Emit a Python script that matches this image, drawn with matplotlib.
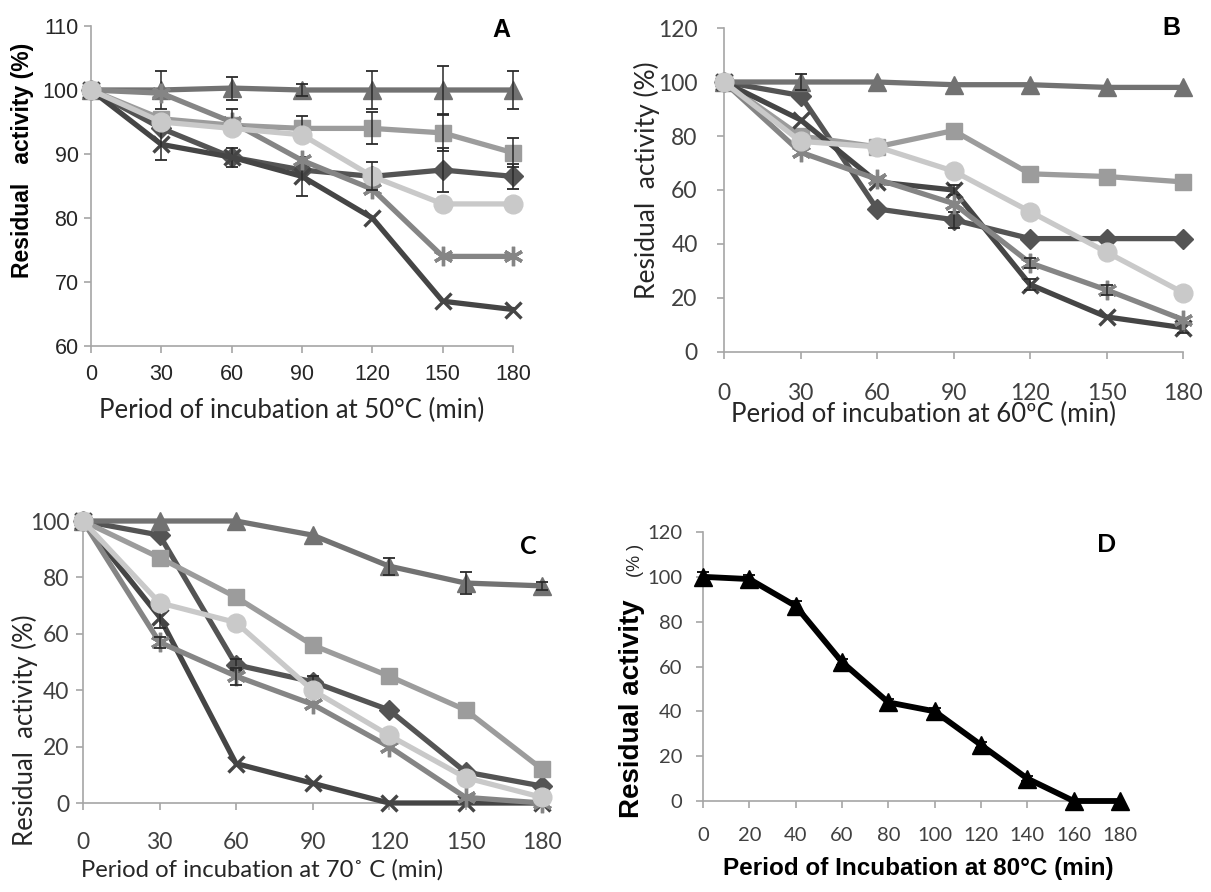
import numpy as np
import matplotlib
matplotlib.use('Agg')
import matplotlib.pyplot as plt

W, H = 1211, 892

# incubation times (min)
t = [0, 30, 60, 90, 120, 150, 180]
t_d = [0, 20, 40, 60, 80, 100, 120, 140, 160, 180]

# panel A, 50 C
a_diamond = [100, 94, 89.5, 87.5, 86.5, 87.5, 86.5]
a_square = [100, 95.5, 94.5, 94, 94, 93.3, 90.2]
a_triangle = [100, 100, 100.3, 100, 100, 100, 100]
a_x = [100, 91.5, 89.5, 86.5, 80, 67, 65.7]
a_star = [100, 99.5, 95, 89, 84.5, 74, 74]
a_circle = [100, 95, 94, 93, 86.5, 82.2, 82.2]
a_err = {'diamond': [0, 0, 1.5, 0, 0, 3.5, 2],
         'square': [0, 0, 0, 2, 2.5, 2.8, 2.3],
         'triangle': [0, 3, 1.8, 1, 3, 3.8, 3],
         'x': [0, 2.5, 0, 3, 0, 0, 0],
         'star': [0, 0, 2, 0, 0, 0, 0],
         'circle': [0, 0, 0, 0, 2.2, 0, 0]}

# panel B, 60 C
b_diamond = [100, 95, 53, 49, 42, 42, 42]
b_square = [100, 80, 76, 82, 66, 65, 63]
b_triangle = [100, 100, 100, 99, 99, 98, 98]
b_x = [100, 86, 63, 60, 25, 13, 9]
b_star = [100, 74, 64, 55, 33, 23, 12]
b_circle = [100, 78, 76, 67, 52, 37, 22]
b_err = {'diamond': [0, 0, 0, 3, 0, 0, 0],
         'triangle': [0, 3, 0, 0, 0, 0, 0],
         'x': [0, 0, 0, 2, 2, 0, 2],
         'star': [0, 0, 0, 0, 2, 2, 0]}

# panel C, 70 C
c_diamond = [100, 95, 49, 43, 33, 11, 6]
c_square = [100, 87, 73, 56, 45, 33, 12]
c_triangle = [100, 100, 100, 95, 84, 78, 77]
c_x = [100, 66, 14, 7, 0, 0, 0]
c_star = [100, 57, 45, 35, 20, 2, 0]
c_circle = [100, 71, 64, 40, 24, 9, 2]
c_err = {'diamond': [0, 0, 2, 2, 0, 0, 0],
         'triangle': [0, 0, 0, 0, 3, 4, 1.5],
         'x': [0, 4, 0, 0, 0, 0, 0],
         'star': [0, 2, 3, 0, 0, 0, 0]}

# panel D, 80 C
d_vals = [100, 99, 87, 62, 44, 40, 25, 10, 0, 0]
d_err = [2, 2, 2, 1.5, 1.5, 1.5, 1.5, 1, 0, 0]

styles = {'diamond': ('D', '#545454', 10, 1),
          'square': ('s', '#9c9c9c', 12, 1),
          'triangle': ('^', '#727272', 12.5, 1),
          'x': ('x', '#454545', 12, 2.4),
          'star': ((6, 2, 0), '#858585', 14, 2.4),
          'circle': ('o', '#c9c9c9', 13.5, 1)}
order = ['diamond', 'square', 'triangle', 'x', 'star', 'circle']

ARIAL = 'Liberation Sans'
CALI = 'Lato'
SPINE = '#a6a6a6'

fig = plt.figure(figsize=(W / 100, H / 100), dpi=100)


def add_ax(x0, x1, ytop, ybot):
    return fig.add_axes([x0 / W, 1 - ybot / H, (x1 - x0) / W, (ybot - ytop) / H])


def ftext(x, y, s, **kw):
    fig.text(x / W, 1 - y / H, s, ha='center', va='center', **kw)


def style_ax(ax, font, size, color, xpad, ypad):
    for s in ['top', 'right']:
        ax.spines[s].set_visible(False)
    for s in ['left', 'bottom']:
        ax.spines[s].set_color(SPINE)
        ax.spines[s].set_linewidth(1.2)
    ax.tick_params(direction='out', length=5, width=1.2, color=SPINE,
                   labelsize=size, labelcolor=color)
    ax.tick_params(axis='x', pad=xpad)
    ax.tick_params(axis='y', pad=ypad)
    for lab in ax.get_xticklabels() + ax.get_yticklabels():
        lab.set_fontfamily(font)


def draw_series(ax, data, errs):
    z = 3
    for name in order:
        m, c, ms, mew = styles[name]
        vals = data[name]
        ax.plot(t, vals, color=c, lw=3.8, marker=m, ms=ms, mfc=c, mec=c,
                mew=mew, clip_on=False, zorder=z)
        e = errs.get(name)
        if e is not None:
            idx = [i for i in range(len(t)) if e[i] > 0]
            ax.errorbar([t[i] for i in idx], [vals[i] for i in idx],
                        yerr=[e[i] for i in idx], fmt='none', ecolor='#2a2a2a',
                        elinewidth=1.1, capsize=4.5, capthick=1.3,
                        clip_on=False, zorder=z + 0.5)
        z += 1


# A
ax = add_ax(91, 513, 26, 346)
draw_series(ax, {'diamond': a_diamond, 'square': a_square, 'triangle': a_triangle,
                 'x': a_x, 'star': a_star, 'circle': a_circle}, a_err)
ax.set_xlim(0, 180)
ax.set_ylim(60, 110)
ax.set_xticks(t)
ax.set_yticks(range(60, 111, 10))
style_ax(ax, ARIAL, 15.5, '#262626', 8, 4)
ftext(501, 30, 'A', fontsize=18, fontweight='bold', family=ARIAL)
ftext(23, 160, 'Residual   activity (%)', rotation=90, fontsize=16.5,
      fontweight='bold', family=ARIAL)
ftext(292, 410, 'Period of incubation at 50\u00b0C (min)', fontsize=18.5,
      family=CALI, color='#262626')

# B
ax = add_ax(724, 1183, 28, 352)
draw_series(ax, {'diamond': b_diamond, 'square': b_square, 'triangle': b_triangle,
                 'x': b_x, 'star': b_star, 'circle': b_circle}, b_err)
ax.set_xlim(0, 180)
ax.set_ylim(0, 120)
ax.set_xticks(t)
ax.set_yticks(range(0, 121, 20))
style_ax(ax, CALI, 16.5, '#404040', 17, 14)
ftext(1171, 28, 'B', fontsize=18, fontweight='bold', family=ARIAL)
ftext(647, 180, 'Residual  activity (%)', rotation=90, fontsize=19,
      family=CALI, color='#262626')
ftext(924, 414, 'Period of incubation at 60\u00baC (min)', fontsize=18.5,
      family=CALI, color='#262626')

# C
ax = add_ax(83, 542, 521, 803)
draw_series(ax, {'diamond': c_diamond, 'square': c_square, 'triangle': c_triangle,
                 'x': c_x, 'star': c_star, 'circle': c_circle}, c_err)
ax.set_xlim(0, 180)
ax.set_ylim(0, 100)
ax.set_xticks(t)
ax.set_yticks(range(0, 101, 20))
style_ax(ax, CALI, 16.5, '#404040', 16, 5)
ftext(528, 547, 'C', fontsize=18, fontweight='bold', family=CALI)
ftext(25, 730, 'Residual  activity (%)', rotation=90, fontsize=18.5,
      family=CALI, color='#262626')
ftext(262, 870, 'Period of incubation at 70\u02da C (min)', fontsize=17.2,
      family=CALI, color='#262626')

# D
ax = add_ax(703, 1120, 532, 801)
ax.plot(t_d, d_vals, color='black', lw=4.2, marker='^', ms=13, clip_on=False, zorder=3)
ax.errorbar(t_d[:8], d_vals[:8], yerr=d_err[:8], fmt='none', ecolor='black',
            elinewidth=1.1, capsize=4, capthick=1.3, clip_on=False, zorder=4)
ax.set_xlim(0, 180)
ax.set_ylim(0, 120)
ax.set_xticks(t_d)
ax.set_yticks(range(0, 121, 20))
style_ax(ax, CALI, 14.5, '#404040', 14, 10)
ftext(1107, 545, 'D', fontsize=18, fontweight='bold', family=CALI)
ftext(632, 709, 'Residual activity', rotation=90, fontsize=20,
      fontweight='bold', family=ARIAL)
ftext(635, 560, '(% )', rotation=90, fontsize=13, family=ARIAL, color='#262626')
ftext(918, 869, 'Period of Incubation at 80\u00b0C (min)', fontsize=17.5,
      fontweight='bold', family=ARIAL)

fig.savefig('out.png', dpi=100)
